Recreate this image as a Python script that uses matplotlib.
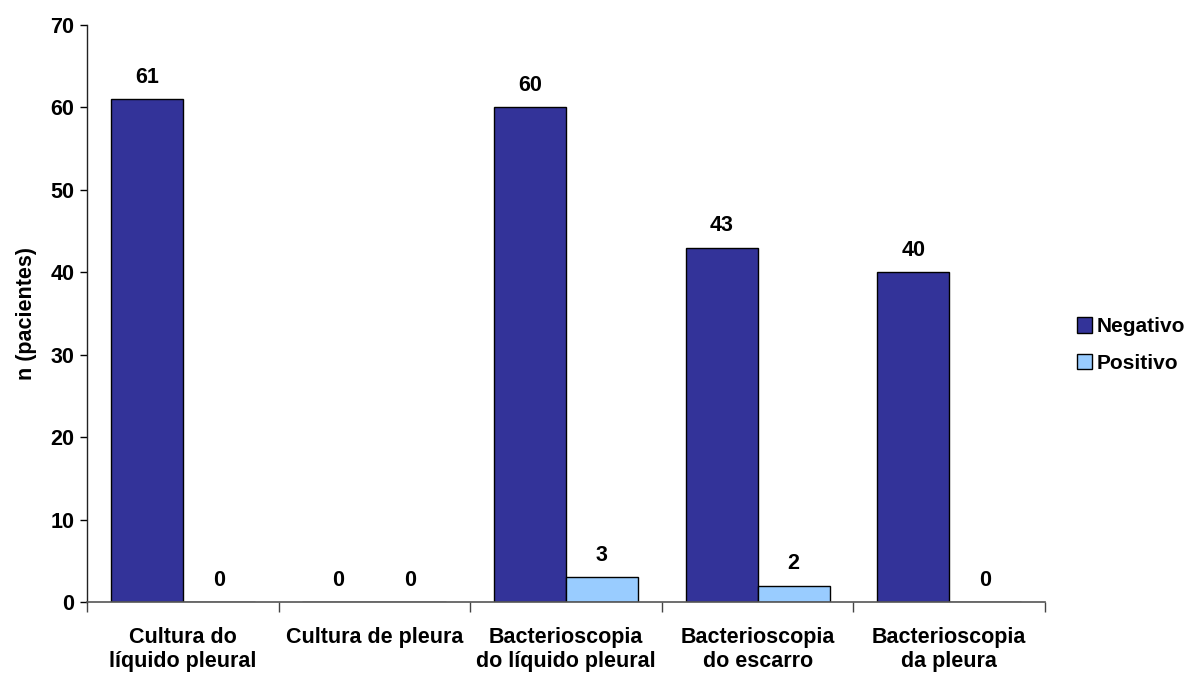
import matplotlib
matplotlib.use("Agg")
import matplotlib.pyplot as plt
import numpy as np

categories = ["Cultura do\nlíquido pleural", "Cultura de pleura",
              "Bacterioscopia\ndo líquido pleural", "Bacterioscopia\ndo escarro",
              "Bacterioscopia\nda pleura"]
negativo = [61, 0, 60, 43, 40]
positivo = [0, 0, 3, 2, 0]
series_names = ["Negativo", "Positivo"]
y_ticks = [0, 10, 20, 30, 40, 50, 60, 70]

plt.rcParams["font.family"] = ["Liberation Sans", "DejaVu Sans"]
plt.rcParams["font.weight"] = "bold"

FS = 15.5

fig = plt.figure(figsize=(11.88, 6.75), dpi=100)
ax = fig.add_axes([0.0732, 0.1081, 0.8064, 0.8549])

x = np.arange(len(categories))
w = 0.376
b1 = ax.bar(x - w / 2, negativo, w, color="#333399", edgecolor="black", linewidth=1.0,
            label=series_names[0])
b2 = ax.bar(x + w / 2, positivo, w, color="#99CCFF", edgecolor="black", linewidth=1.0,
            label=series_names[1])

for bars, vals in ((b1, negativo), (b2, positivo)):
    for rect, v in zip(bars, vals):
        ax.annotate(f"{v}", (rect.get_x() + rect.get_width() / 2, v),
                    xytext=(0, 8), textcoords="offset points",
                    ha="center", va="bottom", fontsize=FS, fontweight="bold")

ax.set_xlim(-0.5, len(categories) - 0.5)
ax.set_ylim(0, 70)
ax.set_yticks(y_ticks)
ax.tick_params(axis="y", labelsize=FS, length=5, width=1, direction="out", pad=4)

ax.set_xticks(x)
ax.set_xticklabels(categories, fontsize=FS, fontweight="bold", linespacing=1.2)
ax.tick_params(axis="x", length=0, pad=18)
ax.set_xticks(np.arange(len(categories) + 1) - 0.5, minor=True)
ax.tick_params(axis="x", which="minor", length=7, width=1, direction="out",
               color="#444444")

for s in ("top", "right"):
    ax.spines[s].set_visible(False)
ax.spines["left"].set_linewidth(1.0)
ax.spines["left"].set_color("#222222")
ax.spines["bottom"].set_linewidth(1.2)
ax.spines["bottom"].set_color("#555555")

ax.set_ylabel("n (pacientes)", fontsize=FS, fontweight="bold", labelpad=10)

leg = ax.legend(loc="center left", bbox_to_anchor=(1.018, 0.445), frameon=False,
                fontsize=15, handlelength=0.75, handleheight=0.75, handletextpad=0.2,
                labelspacing=0.85, borderpad=0.2)
for t in leg.get_texts():
    t.set_fontweight("bold")

fig.savefig("out.png", dpi=100)
